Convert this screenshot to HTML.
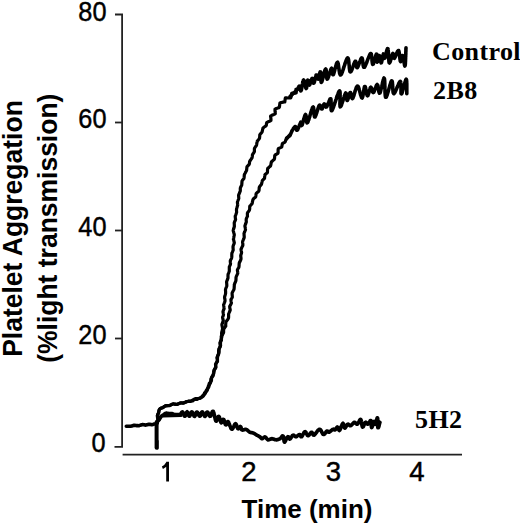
<!DOCTYPE html>
<html><head><meta charset="utf-8"><style>
html,body{margin:0;padding:0;background:#fff;width:520px;height:526px;overflow:hidden}
svg{display:block}
.ax{font-family:"Liberation Sans",sans-serif;font-size:27.5px;fill:#000;stroke:#000;stroke-width:0.45px}
.lb{font-family:"Liberation Sans",sans-serif;font-weight:bold;font-size:26px;fill:#000}
.yl{font-family:"Liberation Sans",sans-serif;font-weight:bold;font-size:27.5px;fill:#000}
.lg{font-family:"Liberation Serif",serif;font-weight:bold;font-size:26px;fill:#000;letter-spacing:0.4px}
</style></head><body>
<svg width="520" height="526" viewBox="0 0 520 526">
<g stroke="#222" stroke-width="1.8" fill="none">
<path d="M115 14.5 H122.1 V446.8 H114.5"/>
<path d="M115 122.5 H122"/>
<path d="M115 230.5 H122"/>
<path d="M115 338.5 H122"/>
<path d="M122.6 454.7 H462"/>
</g>
<g class="ax" text-anchor="end">
<text transform="translate(106.5,21) scale(0.92,1)">80</text>
<text transform="translate(106.5,127.7) scale(0.92,1)">60</text>
<text transform="translate(106.5,235.8) scale(0.92,1)">40</text>
<text transform="translate(106.5,344.2) scale(0.92,1)">20</text>
<text transform="translate(105.6,452.3) scale(0.92,1)">0</text>
</g>
<path d="M162.4 467.8 Q165.3 466.6 167.6 462.6 M167.6 461.8 V481.4" stroke="#000" stroke-width="2.8" fill="none"/>
<g class="ax" text-anchor="middle">
<text x="249" y="481.3">2</text>
<text x="333.5" y="481.3">3</text>
<text x="417" y="481.3">4</text>
</g>
<text class="lb" x="307" y="518" text-anchor="middle">Time (min)</text>
<text class="yl" transform="translate(22,228.5) rotate(-90) scale(0.964,1)" text-anchor="middle">Platelet Aggregation</text>
<text class="yl" transform="translate(57.3,228.2) rotate(-90) scale(0.963,1)" text-anchor="middle">(%light transmission)</text>
<text class="lg" x="432" y="60">Control</text>
<text class="lg" x="433" y="99">2B8</text>
<text class="lg" x="415" y="427.5">5H2</text>
<g stroke="#000" stroke-width="3.6" fill="none" stroke-linejoin="round" stroke-linecap="round">

<path d="M126.3 426.3L127.0 426.3L127.8 426.3L128.6 426.3L129.2 426.3L129.9 426.3L130.6 426.2L131.2 426.1L131.9 425.9L132.6 425.7L133.3 425.5L134.0 425.3L134.6 425.3L135.3 425.4L136.2 425.5L136.8 425.6L137.4 425.6L138.0 425.7L138.6 425.7L139.2 425.6L139.8 425.4L140.4 425.2L141.0 425.0L141.6 424.8L142.2 424.6L142.9 424.6L143.5 424.7L144.1 424.8L144.7 424.9L145.3 425.1L146.0 425.0L146.6 424.8L147.3 424.7L147.9 424.5L148.6 424.4L149.3 424.3L150.0 424.4L150.6 424.5L151.3 424.6L151.9 424.7L152.8 424.5L153.5 424.3L154.2 424.1L155.4 423.8L156.1 423.6L156.5 423.6" stroke-width="3.6"/>
<path d="M157.4 421.7L157.8 421.2L158.3 420.6L158.7 420.1L159.2 419.6L159.6 419.0L159.9 418.4L160.3 417.8L160.6 417.2L160.9 416.7L161.3 416.2L161.9 415.8L162.4 415.5L162.9 415.2L163.7 414.8L164.3 414.1L164.8 413.8L165.6 413.3L166.2 413.2L166.8 413.2L167.4 413.3L168.1 413.4L168.7 413.6L169.3 413.7L169.9 413.6L170.5 413.6L171.2 413.6L171.8 413.6L172.5 413.8L173.1 414.0L173.6 414.3L174.4 414.7L175.4 414.8L176.1 414.8L176.8 414.7L177.6 414.6L178.0 414.5L175.0 414.6L175.7 414.7L176.3 414.7L177.0 414.8L177.7 414.8L178.3 414.8L179.0 414.7L179.6 414.6L180.2 414.4L180.7 414.0L181.1 413.4L181.5 412.7L181.9 412.1L182.5 411.8L182.9 412.3L183.2 412.9L183.4 413.7L183.7 414.4L184.0 415.2L184.3 415.8L184.5 416.2L185.1 416.2L185.3 415.8L185.6 415.1L185.9 414.3L186.2 413.5L186.4 412.8L186.7 412.2L187.1 411.8L187.5 412.2L187.8 412.8L188.0 413.5L188.3 414.3L188.6 415.1L188.9 415.8L189.1 416.2L189.7 416.2L189.9 415.8L190.2 415.1L190.4 414.3L190.7 413.5L191.0 412.8L191.3 412.2L191.7 411.8L192.2 412.1L192.5 412.7L192.8 413.3L193.2 414.1L193.5 414.9L193.8 415.5L194.1 416.1L194.6 416.4L195.0 416.0L195.3 415.4L195.6 414.7L195.8 413.9L196.1 413.1L196.3 412.4L196.6 412.0L197.2 412.0L197.5 412.4L197.8 413.0L198.2 413.7L198.5 414.5L198.9 415.2L199.2 415.8L199.5 416.2L200.1 416.2L200.4 415.8L200.6 415.1L200.9 414.3L201.1 413.5L201.4 412.8L201.7 412.2L202.1 411.8L202.6 412.1L202.9 412.7L203.2 413.3L203.5 414.1L203.9 414.9L204.2 415.5L204.5 416.1L205.0 416.4L205.4 416.0L205.7 415.4L206.0 414.7L206.2 413.9L206.5 413.1L206.7 412.4L207.0 412.0L207.6 412.0L207.9 412.4L208.2 413.0L208.5 413.8L208.9 414.5L209.2 415.3L209.5 415.9L209.9 416.3L210.5 416.2L210.8 415.7L211.1 415.0L211.4 414.1L211.7 413.3L212.0 412.4L212.3 411.7L212.6 411.3L213.2 411.3L213.4 411.8L213.7 412.5L213.9 413.1L214.0 413.8L214.2 414.5L214.4 415.3L214.6 416.1L214.7 416.9L214.9 417.6L215.1 418.4L215.2 419.0L215.4 419.7L215.6 420.2L215.8 420.8L216.3 421.1L216.7 420.7L217.0 420.0L217.3 419.1L217.7 418.2L218.0 417.4L218.3 416.7L218.8 416.4L219.1 416.8L219.4 417.3L219.6 418.0L219.8 418.7L220.0 419.5L220.2 420.3L220.5 421.1L220.7 421.8L220.9 422.3L221.2 422.8L221.7 422.5L222.1 421.8L222.4 420.9L222.8 420.0L223.1 419.4L223.7 419.5L224.0 420.0L224.2 420.6L224.4 421.4L224.7 422.1L224.9 422.9L225.1 423.7L225.3 424.3L225.6 424.8L226.1 424.9L226.5 424.3L226.8 423.4L227.1 422.5L227.5 421.8L228.1 421.6L228.4 422.0L228.7 422.5L228.9 423.0L229.2 423.7L229.5 424.4L229.7 425.2L230.0 425.9L230.3 426.6L230.6 427.3L230.8 428.0L231.1 428.5L231.5 429.0L232.1 429.2L232.7 428.6L233.0 428.1L233.4 427.4L233.7 426.6L234.1 425.8L234.4 425.1L234.7 424.5L235.1 424.0L235.5 423.7L236.0 424.0L236.3 424.6L236.6 425.3L236.8 426.1L237.1 426.9L237.3 427.6L237.6 428.3L237.9 428.7L238.5 428.8L239.0 428.3L239.4 427.6L239.9 426.9L240.3 426.5L240.8 426.8L241.0 427.4L241.2 428.1L241.4 428.9L241.6 429.6L242.0 430.0L242.8 430.1L243.4 429.9L244.0 429.7L244.7 429.5L245.4 429.3L246.0 429.4L246.5 429.6L247.0 429.9L247.5 430.3L248.1 430.8L248.6 431.2L249.1 431.7L249.5 432.0L250.0 432.3L250.6 432.5L251.2 432.6L251.8 432.6L252.4 432.7L253.0 432.9L253.5 433.1L254.0 433.4L254.6 433.7L255.1 434.1L255.7 434.4L256.2 434.8L256.8 435.1L257.3 435.4L257.9 435.7L258.5 436.0L259.0 436.3L259.5 436.6L260.0 436.9L260.5 437.4L261.0 438.0L261.5 438.5L262.0 438.7L262.5 438.5L263.0 438.1L263.6 437.6L264.2 437.1L264.7 436.9L265.2 437.0L265.7 437.3L266.1 437.9L266.5 438.5L267.0 439.0L267.5 439.5L268.0 439.8L268.6 439.8L269.2 439.7L269.8 439.4L270.4 439.1L271.1 438.9L271.7 438.7L272.3 438.7L272.9 438.8L273.5 439.1L274.2 439.3L274.8 439.6L275.4 439.7L276.0 439.8L276.6 439.8L277.3 439.7L277.9 439.5L278.5 439.4L279.1 439.1L279.7 438.8L280.3 438.5L280.8 438.0L281.3 437.3L281.8 436.6L282.2 436.1L282.6 435.8L283.2 436.1L283.4 436.6L283.5 437.2L283.6 438.0L283.8 438.8L283.9 439.7L284.0 440.5L284.1 441.2L284.2 441.7L284.6 442.1L285.0 441.7L285.3 441.1L285.7 440.4L286.0 439.7L286.3 438.9L286.6 438.2L286.9 437.7L287.4 437.1L287.9 436.7L288.5 436.8L288.8 437.2L289.1 438.0L289.4 438.7L289.8 439.1L290.3 438.9L290.6 438.4L291.0 437.8L291.4 437.1L291.8 436.5L292.2 435.8L292.6 435.4L293.3 435.1L293.8 435.3L294.3 435.7L294.9 436.2L295.4 436.7L296.0 436.8L296.5 436.6L297.1 436.2L297.7 435.7L298.2 435.2L298.8 434.8L299.3 434.5L300.0 434.8L300.3 435.4L300.7 436.2L301.0 436.7L301.6 436.7L302.1 436.1L302.5 435.5L302.8 434.8L303.2 434.1L303.6 433.4L303.9 432.7L304.3 432.2L304.7 431.8L305.2 431.6L305.8 432.1L306.1 432.8L306.5 433.5L306.9 434.3L307.2 435.0L307.6 435.5L308.2 435.7L308.6 435.4L309.1 435.0L309.6 434.4L310.0 433.7L310.5 433.1L310.9 432.6L311.3 432.3L311.9 432.4L312.3 433.0L312.6 433.8L313.0 434.5L313.4 435.0L314.0 435.1L314.5 434.8L314.9 434.4L315.3 433.9L315.7 433.3L316.2 432.7L316.7 432.1L317.1 431.4L317.6 430.8L318.0 430.3L318.5 429.9L318.9 429.5L319.5 429.3L320.2 429.5L320.6 430.0L321.0 430.5L321.3 431.2L321.7 431.9L322.1 432.7L322.4 433.3L322.8 433.9L323.1 434.3L323.7 434.5L324.2 434.3L324.7 433.9L325.1 433.3L325.6 432.7L326.0 432.0L326.4 431.5L326.8 431.1L327.3 431.0L327.9 431.4L328.3 432.0L329.0 432.2L329.7 431.9L330.2 431.5L330.7 431.0L331.3 430.5L331.8 430.1L332.3 429.7L332.8 429.4L333.4 429.2L334.1 429.6L334.7 430.0L335.2 429.8L335.6 429.3L336.0 428.6L336.5 427.9L336.9 427.4L337.3 427.0L337.8 427.3L338.1 428.0L338.4 428.8L338.7 429.6L339.0 430.3L339.5 430.5L339.8 430.1L340.1 429.6L340.4 429.0L340.6 428.3L340.9 427.6L341.2 426.8L341.5 426.1L341.8 425.3L342.1 424.7L342.3 424.1L342.6 423.7L343.0 423.3L343.4 423.8L343.6 424.5L343.8 425.3L344.0 426.1L344.2 427.0L344.4 427.6L344.8 428.1L345.3 427.8L345.6 427.3L346.0 426.7L346.4 426.0L346.8 425.3L347.1 424.7L347.5 424.3L348.3 424.2L348.8 424.6L349.4 425.2L350.0 425.6L350.6 425.7L351.3 425.3L351.8 424.8L352.2 424.3L352.8 423.7L353.2 423.1L353.7 422.7L354.2 422.4L354.7 422.3L355.2 422.6L355.8 423.2L356.2 423.8L356.8 424.2L357.3 424.2L357.8 423.7L358.2 423.1L358.6 422.4L359.0 421.6L359.3 420.9L359.7 420.2L360.1 419.7L360.6 419.4L361.0 419.8L361.1 420.3L361.3 420.9L361.4 421.6L361.6 422.4L361.7 423.2L361.8 424.1L361.9 424.9L362.1 425.6L362.2 426.2L362.3 426.7L362.7 427.1L363.2 426.7L363.5 426.2L363.8 425.5L364.2 424.7L364.5 423.9L364.9 423.2L365.2 422.6L365.8 422.2L366.2 422.6L366.7 423.2L367.2 423.8L367.6 424.2L368.3 423.9L368.7 423.3L369.1 422.6L369.6 421.8L370.0 421.1L370.3 420.5L370.9 420.5L371.1 421.1L371.1 421.7L371.2 422.5L371.3 423.3L371.3 424.2L371.3 425.0L371.4 425.8L371.4 426.5L371.5 427.1L371.6 427.5L372.0 427.2L372.2 426.6L372.4 425.9L372.5 425.1L372.7 424.3L372.9 423.5L373.1 422.7L373.3 422.1L373.5 421.6L374.1 421.4L374.4 422.1L374.7 423.0L375.1 423.9L375.4 424.3L375.9 423.7L376.0 423.1L376.2 422.3L376.4 421.5L376.6 420.6L376.8 419.7L376.9 418.9L377.1 418.3L377.3 417.8L377.6 418.2L377.7 418.8L377.7 419.4L377.7 420.1L377.7 420.9L377.7 421.7L377.7 422.5L377.8 423.4L377.8 424.2L377.8 425.0L377.8 425.8L377.8 426.4L377.8 427.0L377.9 427.7L378.4 427.7L378.6 427.1L378.9 426.3L379.1 425.4L379.3 424.6L379.5 423.7L379.7 423.0L379.8 422.5L379.9 422.3" stroke-width="3.7"/>
<path d="M157.3 423.0L157.5 422.2L157.6 421.4L157.7 420.8L157.9 420.2L158.0 419.5L158.1 418.8L158.0 418.1L157.8 417.3L157.7 416.6L157.6 415.9L157.5 415.2L157.7 414.6L158.0 413.8L158.3 413.2L158.7 412.5L158.8 411.9L158.9 411.3L159.1 410.4L159.4 409.6L159.8 409.0L160.3 408.6L160.8 408.4L161.6 408.1L162.4 408.0L162.9 407.6L163.6 407.1L164.2 406.7L165.0 406.2L165.5 405.9L166.1 405.8L166.8 405.7L167.5 405.7L168.1 405.7L168.8 405.7L169.4 405.7L170.0 405.4L170.6 405.1L171.1 404.8L171.7 404.6L172.3 404.3L172.8 404.1L173.4 403.9L174.0 404.0L174.6 404.1L175.3 404.2L175.9 404.3L176.6 404.4L177.3 404.3L177.8 404.1L178.4 403.9L179.0 403.6L179.6 403.4L180.2 403.1L180.8 402.9L181.5 402.9L182.1 402.8L182.8 402.8L183.4 402.8L184.0 402.7L184.8 402.6L185.4 402.3L186.1 402.1L186.7 401.8L187.5 401.5L188.3 401.2L189.1 401.1L189.8 401.1L190.4 401.0L191.3 401.0L192.0 400.9L192.6 400.9L193.2 400.4L193.7 400.0L194.3 399.5L194.8 399.1L195.3 398.7L195.9 398.7L196.8 398.6L197.4 398.5L198.1 398.5L198.7 398.5L199.6 398.5L200.4 398.1L200.9 397.8L201.3 397.3L201.9 396.7L202.4 396.0L202.8 395.6L203.3 395.1L203.9 394.7L204.4 394.3L204.9 393.8L205.4 393.3L205.6 392.7L205.9 391.9L206.1 391.0L206.3 390.4L206.7 389.7L207.1 389.2L207.5 388.7L207.9 388.2L208.3 387.7L208.7 387.1L208.9 386.6L209.0 386.0L209.0 385.4L209.1 384.7L209.1 384.1L209.2 383.5L209.7 383.0L210.1 382.5L210.5 381.9L210.9 381.4L211.3 380.9L211.5 380.3L211.5 379.7L211.5 379.0L211.5 378.4L211.6 377.7L211.7 377.1L212.0 376.6L212.3 376.1L212.7 375.6L213.0 375.0L213.3 374.5L213.6 373.9L213.8 373.3L213.9 372.7L213.9 372.1L214.0 371.4L214.0 370.8L214.0 370.2L214.3 369.6L214.7 369.1L215.1 368.6L215.5 368.0L215.9 367.5L215.8 366.8L215.7 366.1L215.6 365.5L215.5 364.8L215.6 364.2L216.0 363.6L216.4 363.1L216.7 362.5L217.1 362.0L217.5 361.5L217.5 360.8L217.4 360.2L217.3 359.5L217.2 358.9L217.0 358.3L216.9 357.6L217.2 357.1L217.5 356.5L217.8 355.9L218.1 355.4L218.4 354.8L218.6 354.3L218.7 353.6L218.7 353.0L218.6 352.4L218.6 351.7L218.6 351.1L218.6 350.5L218.7 349.9L218.9 349.3L219.2 348.7L219.5 348.1L219.8 347.6L220.1 347.0L220.3 346.4L220.3 345.8L220.2 345.1L220.1 344.4L220.0 343.7L219.9 343.0L220.3 342.4L220.6 341.8L221.0 341.1L221.3 340.5L221.5 339.9L221.4 339.3L221.3 338.4L221.3 337.6L221.2 336.9L221.3 336.3L221.7 335.8L222.4 335.0L222.7 334.4L223.0 333.7L223.4 333.0L223.6 332.4L223.6 331.7L223.6 331.1L223.6 330.4L223.6 329.6L223.7 329.0L224.2 328.4L224.6 327.8L225.0 327.2L225.4 326.6L225.8 326.0L225.7 325.4L225.7 324.7L225.7 324.1L225.8 323.5L225.8 322.6L226.0 321.8L226.5 321.1L227.0 320.4L227.6 319.7L227.9 319.2L228.3 318.6L228.5 318.0L228.6 317.2L228.6 316.4L228.6 315.8L228.6 315.0L228.6 314.2L228.8 313.4L229.2 312.6L229.4 312.1L229.7 311.5L229.9 310.9L230.2 310.3L230.2 309.7L230.1 309.0L229.9 308.4L229.8 307.7L229.7 307.1L229.7 306.4L230.0 305.8L230.4 305.2L230.7 304.6L231.0 304.0L231.3 303.4L231.4 302.8L231.2 302.1L231.1 301.5L231.0 300.9L231.0 300.2L230.9 299.6L231.3 299.0L231.6 298.5L231.9 297.9L232.3 297.3L232.3 296.7L232.3 296.0L232.2 295.4L232.2 294.7L232.1 294.0L232.1 293.4L232.2 292.8L232.5 292.2L232.8 291.6L233.1 291.0L233.4 290.5L233.7 289.9L234.0 289.4L234.1 288.5L234.2 287.6L234.2 286.8L234.3 286.0L234.3 285.2L234.3 284.6L234.6 283.9L234.9 283.2L235.1 282.6L235.4 282.0L235.6 281.4L235.9 280.8L235.9 280.2L236.0 279.3L236.0 278.4L236.0 277.6L236.2 276.8L236.5 276.0L236.9 275.3L237.1 274.7L237.4 274.1L237.7 273.5L237.8 272.9L237.7 272.3L237.6 271.6L237.5 271.0L237.4 270.4L237.5 269.5L237.8 269.0L238.1 268.4L238.5 267.9L238.8 267.4L239.0 266.8L239.0 266.2L239.1 265.6L239.1 265.0L239.1 264.4L239.2 263.7L239.2 263.1L239.5 262.6L239.8 262.0L240.0 261.4L240.3 260.9L240.5 260.3L240.8 259.7L241.0 259.1L241.0 258.2L240.9 257.3L240.8 256.4L240.7 255.8L240.9 254.9L241.1 254.3L241.3 253.7L241.5 253.1L241.6 252.5L241.5 251.9L241.3 251.2L241.2 250.6L241.1 249.9L241.0 249.3L241.3 248.7L241.5 248.1L241.8 247.5L242.1 246.9L242.4 246.3L242.7 245.7L242.9 245.1L242.8 244.4L242.8 243.7L242.7 243.1L242.6 242.4L242.6 241.8L242.8 241.0L243.1 240.2L243.4 239.6L243.6 239.0L243.9 238.3L244.2 237.6L244.2 236.9L244.2 236.1L244.1 235.4L244.1 234.6L244.0 233.5L244.2 232.9L244.5 232.2L244.8 231.4L245.2 230.6L245.4 230.0L245.5 229.4L245.4 228.8L245.3 228.1L245.2 227.4L245.0 226.7L244.9 226.0L245.1 225.3L245.3 224.7L245.6 224.0L245.8 223.4L246.1 222.7L246.3 222.1L246.3 221.4L246.2 220.7L246.2 220.1L246.2 219.4L246.3 218.8L246.5 218.3L246.8 217.5L247.2 216.8L247.5 216.2L247.4 215.4L247.4 214.6L247.4 213.9L247.4 213.2L247.7 212.6L248.1 212.1L248.4 211.6L248.9 210.9L249.4 210.2L249.6 209.4L249.7 208.6L249.7 207.8L249.7 206.9L249.8 206.2L250.3 205.7L250.7 205.3L251.1 204.8L251.5 204.3L252.1 203.7L252.3 202.9L252.4 202.3L252.5 201.6L252.6 201.0L252.8 200.4L252.9 199.7L253.2 199.1L253.8 198.5L254.3 198.1L254.8 197.7L255.3 197.3L255.7 196.8L255.8 196.1L255.9 195.5L256.0 194.8L256.1 194.1L256.2 193.4L256.7 193.0L257.2 192.6L257.7 192.1L258.2 191.7L258.7 191.3L259.0 190.5L259.1 189.8L259.1 189.1L259.2 188.4L259.2 187.7L259.4 187.1L259.7 186.6L260.1 186.1L260.5 185.6L260.9 185.1L261.3 184.6L261.6 183.8L261.8 182.9L262.0 182.0L262.1 181.4L262.3 180.8L262.6 180.2L263.1 179.8L263.5 179.4L264.0 178.9L264.4 178.5L264.6 177.9L264.6 177.3L264.7 176.6L264.8 176.0L264.9 175.3L264.9 174.7L265.4 174.3L265.9 173.8L266.4 173.4L266.9 173.0L267.4 172.5L267.4 171.9L267.5 171.2L267.5 170.5L267.5 169.9L267.6 169.2L267.7 168.6L268.1 168.1L268.6 167.7L269.0 167.2L269.5 166.8L270.0 166.4L270.5 166.0L270.8 165.1L270.9 164.5L271.0 163.9L271.1 163.3L271.2 162.7L271.4 162.0L272.0 161.4L272.4 160.9L272.9 160.5L273.4 160.1L273.9 159.7L274.3 159.2L274.5 158.6L274.6 158.0L274.6 157.3L274.7 156.7L274.7 156.0L274.8 155.4L275.2 154.9L275.8 154.5L276.5 154.2L277.1 153.8L277.8 153.5L278.1 152.7L278.1 152.0L278.1 151.2L278.1 150.5L278.1 149.7L278.2 149.0L278.5 148.5L279.2 148.2L279.9 147.9L280.5 147.6L281.2 147.3L281.7 146.9L281.9 146.3L282.0 145.6L282.1 145.0L282.3 144.3L282.4 143.6L283.0 143.2L283.6 142.9L284.2 142.6L284.8 142.2L285.2 141.8L285.4 141.2L285.6 140.6L285.8 140.0L286.0 139.4L286.2 138.8L286.4 138.1L286.9 137.6L287.6 137.2L288.2 136.8L288.9 136.4L289.5 136.1L290.1 135.7L290.4 134.9L290.5 134.2L290.5 134.0" stroke-width="3.2"/>
<path d="M157.3 423.0L157.4 422.2L157.6 421.4L157.7 420.8L157.8 420.2L157.7 419.5L157.7 418.8L157.6 418.0L157.5 417.3L157.4 416.6L157.3 415.9L157.6 415.2L157.8 414.6L158.2 413.9L158.5 413.3L158.7 412.5L158.7 411.8L158.8 411.2L159.0 410.3L159.3 409.6L159.8 409.0L160.5 408.4L161.2 408.0L162.0 407.7L162.6 407.5L163.2 407.2L163.7 406.9L164.4 406.4L165.2 406.0L165.8 405.7L166.4 405.6L167.1 405.6L167.8 405.6L168.4 405.5L169.1 405.5L169.7 405.4L170.2 405.1L170.8 404.9L171.4 404.6L172.0 404.4L172.5 404.1L173.1 403.9L173.7 403.9L174.3 404.1L175.0 404.2L175.6 404.4L176.3 404.5L177.0 404.4L177.8 404.1L178.4 403.8L179.0 403.6L179.6 403.3L180.2 403.0L180.8 402.9L181.5 403.0L182.2 403.1L182.9 403.2L183.5 403.1L184.0 402.8L184.8 402.4L185.4 402.1L186.0 401.7L186.6 401.5L187.2 401.5L188.0 401.5L188.9 401.4L189.5 401.4L190.2 401.3L190.8 401.3L191.3 400.9L191.9 400.6L192.4 400.2L193.0 399.9L193.6 399.5L194.2 399.3L194.9 399.3L195.5 399.3L196.2 399.4L197.0 399.4L197.6 399.0L198.2 398.7L198.7 398.5L199.5 398.1L200.2 397.8L201.1 397.5L201.8 397.1L202.3 396.8L202.9 396.4L203.4 396.1L203.7 395.5L204.0 394.8L204.2 394.1L204.4 393.5L204.6 392.8L205.1 392.4L205.8 391.8L206.2 391.4L206.7 391.0L207.1 390.6L207.4 390.0L207.5 389.4L207.7 388.8L207.8 388.2L208.0 387.5L208.1 386.9L208.3 386.3L208.8 385.6L209.2 385.1L209.5 384.6L209.8 384.0L210.2 383.5L210.5 383.0L210.6 382.3L210.6 381.7L210.7 381.0L210.8 380.4L210.8 379.8L210.9 379.1L211.1 378.5L211.5 378.0L211.8 377.5L212.2 377.0L212.6 376.5L213.0 376.0L213.2 375.4L213.2 374.8L213.3 374.2L213.4 373.5L213.5 372.9L213.6 372.3L213.7 371.6L213.9 371.1L214.2 370.5L214.4 370.0L214.7 369.4L215.0 368.9L215.3 368.3L215.5 367.7L215.6 367.1L215.7 366.5L215.7 365.8L215.8 365.2L215.8 364.5L215.9 363.9L216.2 363.3L216.4 362.8L216.7 362.2L216.9 361.6L217.1 361.1L217.4 360.5L217.5 359.9L217.5 359.3L217.5 358.7L217.5 358.0L217.6 357.4L217.6 356.8L217.6 356.2L217.7 355.6L218.0 355.1L218.2 354.5L218.4 353.9L218.7 353.3L218.9 352.7L219.1 352.1L219.1 351.5L219.1 350.9L219.1 350.3L219.1 349.6L219.1 349.0L219.2 348.4L219.5 347.8L219.7 347.2L220.0 346.7L220.3 346.1L220.6 345.5L220.5 344.7L220.5 343.9L220.5 343.2L220.5 342.5L220.4 341.7L220.6 340.9L220.8 340.3L221.1 339.6L221.3 338.8L221.6 338.0L221.8 337.0L221.8 336.4L221.7 335.6L221.7 334.9L221.6 334.1L221.6 333.3L221.7 332.4L221.9 331.5L222.1 330.9L222.2 330.3L222.4 329.7L222.5 329.1L222.6 328.5L222.5 327.8L222.4 327.2L222.2 326.5L222.1 325.8L221.9 325.1L221.9 324.5L222.1 323.8L222.4 323.2L222.6 322.5L222.8 321.9L223.0 321.3L223.3 320.6L223.1 320.0L223.0 319.3L222.8 318.7L222.7 318.1L222.6 317.4L222.8 316.9L223.0 316.3L223.2 315.7L223.4 315.1L223.5 314.4L223.3 313.8L223.2 313.1L223.1 312.4L223.0 311.8L223.1 311.1L223.4 310.5L223.6 309.9L223.9 309.3L224.1 308.7L224.1 308.0L224.0 307.4L223.9 306.7L223.8 306.1L223.7 305.4L223.6 304.8L223.8 304.2L224.1 303.6L224.3 303.0L224.5 302.5L224.7 301.9L225.0 301.0L225.0 300.2L224.9 299.3L224.7 298.5L224.6 297.7L224.6 297.0L224.8 296.2L225.0 295.5L225.2 294.9L225.4 294.2L225.6 293.6L225.6 293.0L225.6 292.1L225.6 291.3L225.5 290.5L225.5 289.6L225.7 288.8L226.0 288.0L226.3 287.2L226.6 286.6L226.8 286.0L226.8 285.4L226.8 284.8L226.7 283.9L226.7 283.0L226.6 282.4L226.6 281.8L226.8 281.2L227.0 280.6L227.3 280.0L227.5 279.4L227.8 278.7L228.0 278.1L228.0 277.5L228.0 276.8L228.0 276.2L228.0 275.5L228.0 274.9L228.1 274.3L228.3 273.7L228.6 273.1L228.8 272.5L229.0 272.0L229.3 271.2L229.3 270.3L229.3 269.7L229.3 269.0L229.3 268.3L229.3 267.6L229.3 266.9L229.5 266.3L229.8 265.8L230.1 265.2L230.4 264.6L230.5 263.7L230.5 263.1L230.4 262.5L230.3 261.7L230.3 260.8L230.6 260.0L231.0 259.3L231.3 258.7L231.6 258.1L231.7 257.5L231.8 256.8L231.8 256.2L231.8 255.6L231.8 255.0L231.8 254.1L231.9 253.2L232.1 252.7L232.4 252.1L232.6 251.5L232.8 251.0L233.1 250.4L233.2 249.8L233.1 248.9L233.1 248.0L233.0 247.1L233.1 246.2L233.3 245.6L233.5 245.0L233.7 244.5L234.0 243.9L234.2 243.3L234.3 242.6L234.1 242.0L234.0 241.3L233.8 240.7L233.7 240.0L233.4 239.2L233.6 238.4L233.8 237.5L233.9 236.7L234.1 235.9L234.3 235.0L234.2 234.1L234.0 233.6L233.9 233.0L233.7 232.4L233.5 231.7L233.3 231.1L233.2 230.4L233.4 229.7L233.6 229.1L233.8 228.4L234.0 227.8L234.2 227.0L234.4 226.2L234.3 225.3L234.3 224.4L234.3 223.8L234.2 223.2L234.3 222.6L234.5 222.0L234.8 221.4L235.1 220.8L235.3 220.2L235.6 219.6L235.5 218.9L235.4 218.2L235.3 217.6L235.3 216.9L235.2 216.3L235.4 215.7L235.7 215.1L235.9 214.5L236.1 213.9L236.3 213.3L236.6 212.5L236.6 211.6L236.5 210.8L236.5 210.1L236.5 209.4L236.6 208.7L236.8 208.0L237.0 207.4L237.2 206.7L237.4 206.1L237.6 205.5L237.7 204.8L237.6 204.2L237.5 203.5L237.5 202.9L237.4 202.3L237.6 201.4L238.0 200.6L238.3 199.8L238.6 199.0L238.8 198.3L238.7 197.5L238.7 196.7L238.6 195.9L238.6 195.2L238.8 194.6L239.1 194.0L239.4 193.2L239.7 192.5L240.0 191.7L240.3 190.9L240.3 190.0L240.3 189.4L240.3 188.8L240.3 188.2L240.6 187.3L241.0 186.5L241.4 185.7L241.7 185.2L241.8 184.6L241.8 184.0L241.9 183.3L241.9 182.7L242.0 181.8L242.0 181.2L242.3 180.6L242.7 180.1L243.1 179.6L243.5 179.1L243.9 178.6L244.0 178.0L244.1 177.4L244.2 176.7L244.2 176.1L244.3 175.5L244.3 174.8L244.5 174.3L244.8 173.7L245.1 173.2L245.4 172.6L245.7 172.1L246.0 171.5L246.3 171.0L246.6 170.5L246.6 169.8L246.7 169.2L246.8 168.6L246.8 168.0L246.9 167.4L247.0 166.8L247.4 166.3L247.8 165.8L248.4 165.2L249.0 164.7L249.3 164.0L249.5 163.1L249.5 162.4L249.6 161.7L249.9 161.0L250.4 160.3L250.8 159.7L251.2 159.1L251.6 158.4L252.1 157.7L252.2 157.1L252.3 156.5L252.4 155.8L252.4 155.2L252.5 154.5L252.9 154.0L253.3 153.4L253.7 152.8L254.1 152.2L254.4 151.6L254.4 150.9L254.4 150.2L254.4 149.5L254.4 148.9L254.5 148.2L254.8 147.7L255.2 147.2L255.7 146.4L256.2 145.8L256.5 145.1L256.7 144.3L256.8 143.5L256.9 142.8L257.1 142.1L257.2 141.4L257.5 140.9L258.1 140.2L258.6 139.6L259.1 138.9L259.5 138.2L259.6 137.4L259.7 136.7L259.7 136.0L259.8 135.3L259.8 134.7L260.2 134.2L260.7 133.7L261.1 133.2L261.5 132.7L261.9 132.2L262.2 131.7L262.3 131.1L262.4 130.5L262.6 129.6L262.8 128.9L262.9 128.3L263.3 127.8L263.8 127.3L264.3 126.9L264.9 126.6L265.4 126.2L266.0 125.9L266.4 125.1L266.4 124.4L266.5 123.7L266.6 123.1L266.8 122.5L267.6 122.1L268.2 121.8L268.8 121.6L269.5 121.3L270.3 120.9L270.9 120.5L271.0 119.8L270.9 119.2L270.9 118.5L270.8 117.7L270.7 117.0L270.6 116.2L271.1 115.7L271.8 115.4L272.5 115.0L273.2 114.7L274.0 114.4L274.7 114.1L275.3 113.8L275.2 113.0L275.2 112.3L275.1 111.6L275.0 110.7L275.0 109.9L275.0 109.1L275.7 108.8L276.4 108.5L277.1 108.3L277.8 108.0L278.4 107.8L279.1 107.6L279.5 106.8L279.5 106.1L279.6 105.4L279.7 104.7L279.8 103.9L279.9 103.1L280.4 102.7L281.1 102.5L281.9 102.4L282.6 102.2L283.4 102.1L284.1 102.0L284.8 101.9L284.9 101.2L285.0 100.4L285.1 99.6L285.2 98.7L285.4 97.9L286.1 97.9L286.8 97.9L287.5 98.0L288.2 98.0L289.0 98.0L289.8 98.0L290.7 98.0L291.0 97.2L291.1 96.5L291.3 95.8L291.4 95.0L291.6 94.1L291.7 93.3L292.5 93.1L293.5 93.1L294.4 93.1L295.4 93.1L296.2 93.0L296.2 92.1L296.1 91.2L296.0 90.4L296.0 89.7L295.9 89.2" stroke-width="3.2"/>
<path d="M286.5 139.0L286.9 138.5L287.2 138.1L287.6 137.7L288.0 137.2L288.5 136.6L288.9 136.1L289.4 135.5L289.8 135.0L290.2 134.5L290.5 134.0L290.9 133.4L291.2 132.8L291.4 132.2L291.7 131.6L291.9 131.1L292.2 130.5L292.5 130.0L292.9 129.5L293.2 128.8L293.6 128.2L294.1 127.6L294.5 127.1L294.9 126.7L295.4 126.5L295.8 127.1L296.1 127.9L296.3 128.9L296.5 129.7L296.8 130.2L297.4 130.0L297.8 129.4L298.0 128.8L298.3 128.2L298.6 127.5L298.9 126.8L299.2 126.1L299.4 125.3L299.7 124.6L300.0 123.9L300.3 123.3L300.5 122.7L300.8 122.1L301.4 122.3L301.4 123.3L301.5 123.9L301.5 124.4L301.5 124.9L301.6 125.6L302.0 125.2L302.3 124.6L302.4 124.1L302.6 123.5L302.8 122.8L303.0 122.1L303.2 121.3L303.4 120.5L303.6 119.7L303.9 118.9L304.1 118.1L304.3 117.4L304.5 116.7L304.7 116.1L304.9 115.5L305.2 114.9L305.5 114.5L305.8 114.9L306.0 115.4L306.1 116.2L306.2 117.0L306.2 118.0L306.3 118.9L306.4 119.9L306.5 120.8L306.6 121.6L306.8 122.3L307.0 122.8L307.5 122.6L307.8 122.2L308.1 121.5L308.2 121.0L308.4 120.5L308.7 119.9L308.9 119.2L309.1 118.5L309.3 117.7L309.6 117.0L309.8 116.2L310.0 115.4L310.3 114.6L310.5 113.8L310.7 113.0L311.0 112.2L311.2 111.5L311.4 110.8L311.6 110.1L311.9 109.5L312.1 108.9L312.3 108.4L312.5 107.7L312.8 107.3L313.2 107.0L313.5 107.5L313.6 108.1L313.7 108.8L313.8 109.6L313.9 110.5L313.9 111.4L314.0 112.3L314.0 113.3L314.1 114.2L314.2 115.0L314.3 115.8L314.4 116.4L314.6 117.0L315.1 116.9L315.4 116.3L315.6 115.8L315.9 115.2L316.1 114.6L316.3 113.9L316.6 113.2L316.8 112.4L317.1 111.6L317.3 110.8L317.6 110.0L317.8 109.2L318.0 108.5L318.3 107.8L318.5 107.1L318.7 106.5L318.9 106.0L319.2 105.4L319.6 105.0L320.2 105.4L320.5 106.1L320.8 107.0L320.9 107.5L321.2 108.4L321.5 109.0L322.1 109.0L322.3 108.5L322.6 107.9L322.8 107.1L323.1 106.3L323.3 105.6L323.6 104.8L323.8 104.3L324.2 103.8L324.7 104.2L325.0 104.9L325.3 105.8L325.7 106.6L326.0 107.1L326.6 106.9L327.0 106.3L327.2 105.8L327.5 105.1L327.8 104.4L328.1 103.6L328.4 102.8L328.8 102.0L329.1 101.2L329.4 100.5L329.7 99.8L329.9 99.2L330.3 98.7L330.8 98.7L330.9 99.2L331.0 99.8L331.0 100.4L331.0 101.2L331.1 102.0L331.1 102.8L331.0 103.7L331.0 104.7L331.0 105.6L331.0 106.5L331.0 107.4L331.1 108.2L331.1 108.9L331.1 109.6L331.2 110.1L331.4 110.7L331.9 110.7L332.2 110.1L332.5 109.6L332.8 108.9L333.0 108.3L333.2 107.8L333.5 107.1L333.7 106.5L333.9 105.8L334.2 105.1L334.4 104.3L334.7 103.5L334.9 102.8L335.2 102.0L335.5 101.2L335.7 100.4L336.0 99.6L336.3 98.8L336.5 98.0L336.8 97.2L337.0 96.5L337.3 95.7L337.5 95.1L337.8 94.4L338.0 93.8L338.2 93.2L338.4 92.7L338.6 92.2L338.9 91.6L339.2 91.2L339.5 90.8L339.9 91.2L340.0 91.8L340.0 92.3L340.1 92.9L340.1 93.5L340.1 94.3L340.1 95.0L340.1 95.9L340.1 96.7L340.1 97.6L340.0 98.5L340.0 99.4L340.0 100.3L340.0 101.2L340.0 102.1L339.9 102.9L339.9 103.7L339.9 104.4L340.0 105.1L340.0 105.6L340.0 106.3L340.2 106.9L340.7 106.7L340.9 106.2L341.3 105.5L341.5 105.0L341.7 104.3L341.9 103.6L342.2 102.9L342.4 102.1L342.7 101.3L343.0 100.5L343.2 99.7L343.5 98.9L343.7 98.1L344.0 97.3L344.2 96.5L344.5 95.8L344.7 95.2L344.9 94.6L345.1 94.1L345.4 93.5L345.7 93.0L346.2 93.4L346.3 94.0L346.4 94.7L346.5 95.6L346.6 96.6L346.7 97.5L346.7 98.5L346.8 99.3L346.9 100.0L347.0 100.5L347.5 100.4L347.8 99.6L348.0 99.0L348.3 98.3L348.5 97.5L348.7 96.7L348.9 95.8L349.2 95.0L349.4 94.3L349.6 93.6L349.8 93.1L350.1 92.5L350.6 92.5L350.8 93.1L351.0 93.8L351.2 94.7L351.3 95.6L351.5 96.6L351.7 97.4L351.9 98.1L352.3 98.6L352.8 98.3L353.0 97.8L353.2 97.3L353.4 96.7L353.7 96.1L353.9 95.4L354.1 94.7L354.3 93.9L354.6 93.1L354.8 92.3L355.0 91.5L355.3 90.7L355.5 89.9L355.8 89.2L356.0 88.5L356.2 87.8L356.5 87.3L356.7 86.8L357.1 86.3L357.5 86.0L358.0 86.3L358.3 86.9L358.5 87.4L358.8 88.0L359.0 88.7L359.2 89.5L359.4 90.3L359.7 91.1L359.9 92.0L360.1 92.8L360.3 93.7L360.5 94.5L360.7 95.2L361.0 95.9L361.2 96.6L361.4 97.1L361.6 97.7L362.1 98.0L362.4 97.5L362.7 96.8L362.8 96.2L363.0 95.5L363.1 94.8L363.2 94.0L363.4 93.1L363.5 92.2L363.6 91.4L363.8 90.5L363.9 89.7L364.0 88.9L364.1 88.2L364.3 87.6L364.4 87.0L364.6 86.5L365.1 86.5L365.4 87.2L365.5 87.8L365.7 88.5L365.8 89.3L366.0 90.1L366.2 91.0L366.3 91.9L366.5 92.7L366.6 93.5L366.8 94.3L367.0 94.9L367.1 95.4L367.5 95.8L367.9 95.5L368.2 94.7L368.4 94.1L368.7 93.4L368.9 92.6L369.1 91.8L369.3 90.9L369.5 90.1L369.8 89.3L370.0 88.6L370.2 88.0L370.4 87.6L370.8 87.2L371.3 87.6L371.5 88.2L371.8 89.0L372.0 89.9L372.3 90.7L372.5 91.5L372.8 92.2L373.2 92.6L373.8 92.2L374.0 91.8L374.3 91.2L374.5 90.5L374.8 89.8L375.1 89.0L375.4 88.1L375.7 87.3L375.9 86.6L376.2 85.9L376.5 85.3L376.7 84.9L377.1 84.5L377.6 85.0L377.8 85.5L377.9 86.2L378.1 87.0L378.2 87.9L378.4 88.8L378.5 89.8L378.7 90.6L378.8 91.4L379.0 92.2L379.2 92.7L379.5 93.2L379.9 93.0L380.2 92.5L380.4 91.8L380.6 91.3L380.7 90.6L380.9 89.9L381.1 89.1L381.3 88.3L381.5 87.5L381.7 86.7L381.9 85.8L382.1 84.9L382.3 84.1L382.4 83.2L382.6 82.4L382.8 81.6L383.0 80.9L383.2 80.2L383.3 79.6L383.5 79.1L383.7 78.5L384.0 78.0L384.4 78.5L384.5 79.0L384.6 79.7L384.6 80.3L384.7 80.9L384.7 81.5L384.7 82.3L384.8 83.0L384.8 83.8L384.8 84.6L384.8 85.5L384.9 86.3L384.9 87.2L384.9 88.1L384.9 88.9L385.0 89.8L385.0 90.6L385.0 91.5L385.0 92.3L385.1 93.0L385.1 93.8L385.2 94.4L385.2 95.1L385.3 95.6L385.3 96.1L385.5 96.8L385.6 97.3L386.2 97.3L386.4 96.8L386.7 96.2L386.9 95.7L387.1 95.1L387.3 94.5L387.5 93.8L387.7 93.0L388.0 92.2L388.2 91.4L388.4 90.6L388.7 89.8L388.9 88.9L389.1 88.1L389.4 87.3L389.6 86.4L389.8 85.6L390.0 84.9L390.3 84.2L390.5 83.5L390.7 82.9L390.9 82.3L391.1 81.9L391.3 81.3L391.6 80.8L392.1 81.1L392.3 81.7L392.4 82.3L392.4 83.0L392.5 83.7L392.6 84.5L392.6 85.4L392.7 86.3L392.7 87.2L392.8 88.1L392.8 89.0L392.9 89.9L393.0 90.7L393.0 91.5L393.1 92.1L393.2 92.7L393.5 93.4L393.9 93.7L394.3 93.3L394.7 92.7L395.0 92.2L395.3 91.6L395.6 91.0L395.9 90.3L396.3 89.5L396.6 88.7L396.9 87.9L397.3 87.1L397.6 86.3L397.9 85.5L398.3 84.7L398.6 84.0L398.9 83.4L399.2 82.8L399.4 82.3L399.8 81.7L400.2 81.3L400.6 81.6L400.7 82.3L400.8 82.8L400.9 83.5L400.9 84.2L400.9 85.0L401.0 85.9L401.0 86.8L401.0 87.7L401.0 88.6L401.0 89.5L401.0 90.3L401.0 91.2L401.0 91.9L401.0 92.6L401.0 93.2L401.1 93.8L401.7 93.9L401.9 93.4L402.2 92.6L402.3 92.0L402.5 91.4L402.7 90.7L403.0 89.9L403.2 89.1L403.4 88.3L403.6 87.5L403.8 86.6L404.1 85.7L404.3 84.9L404.5 84.1L404.7 83.3L404.9 82.6L405.1 81.9L405.3 81.2L405.5 80.7L405.7 80.2L405.9 79.6L406.2 79.2L406.5 79.7L406.6 80.3L406.6 80.8L406.7 81.4L406.7 82.0L406.7 82.7L406.8 83.5L406.8 84.3L406.8 85.1L406.8 85.9L406.8 86.8L406.8 87.6L406.8 88.4L406.8 89.2L406.8 90.0L406.8 90.8L406.8 91.5L406.8 92.1L406.8 92.7L406.8 93.3L406.8 93.7" />
<path d="M290.0 96.5L290.4 96.1L291.0 95.6L291.4 95.2L291.8 94.8L292.3 94.4L292.8 93.9L293.4 93.4L293.9 93.0L294.4 92.5L294.9 92.0L295.4 91.5L295.9 91.1L296.3 90.7L296.6 90.3L297.1 89.8L297.6 89.0L298.0 88.3L298.3 87.6L298.6 87.0L298.8 86.5L299.2 86.0L299.6 86.2L299.8 86.8L300.0 87.7L300.2 88.6L300.3 89.6L300.5 90.4L300.7 90.9L301.2 90.6L301.4 89.9L301.5 89.3L301.6 88.7L301.8 87.9L301.9 87.1L302.1 86.3L302.2 85.5L302.3 84.7L302.5 83.8L302.6 83.1L302.8 82.3L302.9 81.7L303.1 81.1L303.3 80.4L303.6 80.0L304.1 80.5L304.2 81.1L304.4 81.8L304.6 82.6L304.8 83.4L305.0 84.3L305.2 85.2L305.4 86.1L305.6 86.8L305.7 87.5L305.9 88.0L306.2 88.5L306.5 88.1L306.6 87.6L306.7 86.9L306.8 86.2L307.0 85.3L307.1 84.5L307.2 83.6L307.3 82.7L307.4 81.9L307.5 81.2L307.6 80.7L307.7 80.1L308.2 80.5L308.4 81.2L308.5 82.1L308.7 83.1L308.9 84.0L309.1 84.6L309.5 85.0L309.9 84.4L310.1 83.8L310.4 83.1L310.6 82.3L310.9 81.4L311.1 80.6L311.3 79.8L311.6 79.2L311.8 78.7L312.2 78.3L312.5 79.0L312.7 79.8L312.9 80.7L313.1 81.7L313.3 82.5L313.5 83.2L314.0 83.0L314.3 82.3L314.5 81.7L314.6 81.0L314.8 80.2L315.0 79.4L315.2 78.6L315.4 77.8L315.6 77.0L315.7 76.4L315.9 75.8L316.1 75.1L316.7 75.1L316.9 75.8L317.1 76.8L317.2 77.2L317.4 78.2L317.6 78.9L318.1 79.1L318.4 78.5L318.6 77.9L318.8 77.1L319.0 76.3L319.2 75.4L319.4 74.5L319.6 73.6L319.8 72.9L320.0 72.2L320.2 71.8L320.7 72.0L320.7 72.5L320.7 73.2L320.8 73.9L320.8 74.7L320.8 75.6L320.8 76.5L320.8 77.4L320.9 78.3L320.9 79.1L320.9 80.0L321.0 80.7L321.0 81.3L321.1 81.9L321.2 82.4L321.7 82.0L322.0 81.4L322.1 80.8L322.3 80.2L322.5 79.5L322.7 78.8L322.9 78.0L323.1 77.2L323.3 76.4L323.5 75.6L323.7 74.8L323.9 73.9L324.1 73.2L324.3 72.4L324.5 71.7L324.7 71.0L324.9 70.5L325.1 70.0L325.3 69.4L325.7 69.0L326.0 69.4L326.1 69.9L326.2 70.6L326.2 71.3L326.3 72.1L326.4 73.0L326.5 73.9L326.5 74.9L326.6 75.8L326.7 76.6L326.7 77.4L326.8 78.1L326.9 78.6L327.1 79.1L327.6 78.9L327.9 78.3L328.1 77.7L328.4 77.1L328.6 76.4L328.8 75.7L329.1 74.9L329.3 74.1L329.6 73.3L329.8 72.5L330.1 71.7L330.3 71.0L330.5 70.3L330.8 69.7L331.0 69.1L331.3 68.5L331.6 68.2L332.0 68.8L332.1 69.6L332.2 70.4L332.3 71.4L332.4 72.4L332.5 73.3L332.6 74.1L332.8 74.7L333.3 74.8L333.6 74.2L333.7 73.7L333.9 73.1L334.1 72.5L334.3 71.8L334.5 71.0L334.7 70.2L334.9 69.4L335.1 68.6L335.4 67.8L335.6 66.9L335.8 66.1L336.0 65.4L336.2 64.7L336.4 64.0L336.6 63.5L336.9 63.0L337.1 62.5L337.6 62.2L337.9 62.7L338.1 63.4L338.2 64.1L338.4 64.8L338.5 65.6L338.6 66.4L338.7 67.3L338.8 68.2L339.0 69.1L339.1 70.0L339.2 70.9L339.4 71.7L339.5 72.5L339.6 73.2L339.8 73.8L340.0 74.3L340.3 74.9L340.8 75.0L341.2 74.5L341.5 74.0L341.8 73.3L342.0 72.8L342.2 72.2L342.5 71.5L342.7 70.8L343.0 70.1L343.2 69.3L343.5 68.5L343.7 67.7L344.0 66.9L344.2 66.1L344.5 65.3L344.8 64.5L345.0 63.7L345.3 62.9L345.5 62.2L345.8 61.5L346.0 60.8L346.2 60.2L346.5 59.7L346.7 59.2L347.0 58.5L347.3 58.1L347.7 57.8L348.1 58.2L348.3 58.9L348.5 59.4L348.6 60.1L348.7 60.8L348.8 61.5L348.9 62.3L348.9 63.2L349.0 64.1L349.1 64.9L349.2 65.8L349.3 66.7L349.3 67.5L349.4 68.4L349.5 69.1L349.6 69.8L349.7 70.4L349.8 71.0L350.0 71.6L350.3 72.0L350.9 71.7L351.2 71.1L351.5 70.6L351.8 70.0L352.1 69.2L352.3 68.5L352.6 67.7L352.9 66.9L353.2 66.0L353.5 65.2L353.8 64.4L354.0 63.7L354.3 63.0L354.6 62.4L354.8 61.9L355.1 61.4L355.7 61.3L355.9 61.9L356.0 62.6L356.2 63.5L356.3 64.5L356.4 65.4L356.5 66.3L356.6 67.1L356.8 67.6L357.4 67.6L357.7 67.1L358.0 66.6L358.2 66.0L358.5 65.3L358.8 64.6L359.0 63.8L359.3 63.0L359.6 62.2L359.9 61.4L360.2 60.7L360.5 59.9L360.7 59.3L361.0 58.8L361.3 58.3L361.6 57.9L362.1 58.0L362.3 58.7L362.5 59.4L362.6 60.1L362.7 61.0L362.8 61.9L362.9 62.8L363.0 63.8L363.1 64.7L363.2 65.5L363.4 66.2L363.5 66.8L363.8 67.3L364.4 67.3L364.7 66.9L365.0 66.3L365.3 65.8L365.5 65.2L365.8 64.6L366.1 63.9L366.4 63.2L366.7 62.5L367.0 61.7L367.2 60.9L367.5 60.2L367.8 59.4L368.1 58.6L368.4 57.9L368.7 57.2L369.0 56.5L369.3 55.9L369.5 55.3L369.8 54.8L370.1 54.1L370.4 53.7L370.9 53.5L371.3 54.1L371.4 54.6L371.5 55.3L371.6 56.0L371.7 56.8L371.8 57.7L371.9 58.6L372.0 59.5L372.0 60.4L372.1 61.2L372.2 62.0L372.3 62.8L372.4 63.4L372.5 63.9L372.7 64.4L373.2 64.2L373.5 63.5L373.7 63.0L373.9 62.3L374.1 61.6L374.4 60.8L374.6 59.9L374.8 59.1L375.1 58.2L375.3 57.4L375.5 56.6L375.7 55.9L375.9 55.2L376.1 54.7L376.4 54.1L376.9 54.4L377.0 54.9L377.0 55.7L377.1 56.5L377.1 57.4L377.1 58.3L377.1 59.2L377.1 60.0L377.2 60.8L377.2 61.5L377.3 62.1L377.8 61.6L378.0 61.0L378.2 60.2L378.4 59.3L378.6 58.5L378.8 57.6L379.0 56.8L379.2 56.2L379.4 55.7L380.0 56.0L380.1 56.6L380.2 57.3L380.3 58.2L380.4 59.1L380.5 60.0L380.6 60.9L380.7 61.7L380.9 62.3L381.1 62.9L381.5 62.5L381.7 61.8L381.8 61.1L382.0 60.4L382.2 59.6L382.3 58.8L382.5 58.0L382.7 57.1L382.8 56.3L383.0 55.6L383.1 55.0L383.3 54.4L383.4 53.9L383.8 54.3L383.9 55.2L384.1 56.2L384.1 56.7L384.2 57.7L384.4 58.3L384.9 58.1L385.1 57.6L385.2 57.0L385.4 56.3L385.6 55.5L385.8 54.6L386.0 53.8L386.2 52.9L386.4 52.0L386.6 51.2L386.8 50.4L387.0 49.8L387.2 49.2L387.5 48.6L388.0 48.9L388.1 49.5L388.2 50.0L388.2 50.6L388.3 51.3L388.3 52.0L388.4 52.8L388.4 53.6L388.5 54.4L388.5 55.3L388.5 56.1L388.6 57.0L388.6 57.8L388.7 58.6L388.7 59.4L388.8 60.1L388.9 60.8L388.9 61.4L389.0 61.9L389.1 62.6L389.4 63.0L389.8 62.5L390.1 62.0L390.3 61.4L390.5 60.7L390.7 59.9L391.0 59.1L391.2 58.2L391.5 57.3L391.7 56.5L391.9 55.7L392.2 55.0L392.4 54.4L392.5 53.9L392.9 53.4L393.2 54.0L393.4 54.7L393.5 55.7L393.6 56.7L393.7 57.5L393.9 58.2L394.4 58.4L394.7 57.9L395.0 57.4L395.3 56.8L395.6 56.1L395.9 55.3L396.2 54.5L396.5 53.7L396.8 52.9L397.2 52.2L397.5 51.5L397.8 51.0L398.2 50.5L398.7 50.6L398.9 51.1L399.0 51.6L399.1 52.1L399.2 52.8L399.4 53.6L399.5 54.4L399.5 55.2L399.6 56.0L399.7 56.9L399.8 57.7L399.9 58.5L400.0 59.2L400.1 59.9L400.2 60.5L400.3 61.1L400.6 61.6L400.9 61.2L401.1 60.5L401.4 59.7L401.6 58.7L401.7 58.2L401.8 57.7L402.0 56.8L402.3 56.1L402.5 55.5L403.0 55.8L403.2 56.6L403.3 57.2L403.5 58.0L403.6 58.8L403.7 59.7L403.9 60.6L404.0 61.6L404.1 62.5L404.2 63.3L404.4 64.1L404.5 64.9L404.6 65.4L404.8 66.1L405.1 65.6L405.2 65.1L405.3 64.4L405.3 63.9L405.4 63.3L405.4 62.7L405.4 62.0L405.5 61.3L405.5 60.5L405.5 59.8L405.6 59.0L405.6 58.2L405.6 57.4L405.7 56.6L405.7 55.8L405.7 55.0L405.8 54.2L405.8 53.5L405.8 52.7L405.8 52.0L405.9 51.3L405.9 50.6L405.9 50.0L405.9 49.4L405.9 48.9L406.0 48.2L406.0 47.7L406.0 47.7" />
<path d="M156.6 422 L156.6 447.8" stroke-width="4"/>
<path d="M157.6 441 L157.6 448.6" stroke-width="2"/>
<path d="M163 416 L181 415.5" stroke-width="3"/>

</g>
</svg>
</body></html>
